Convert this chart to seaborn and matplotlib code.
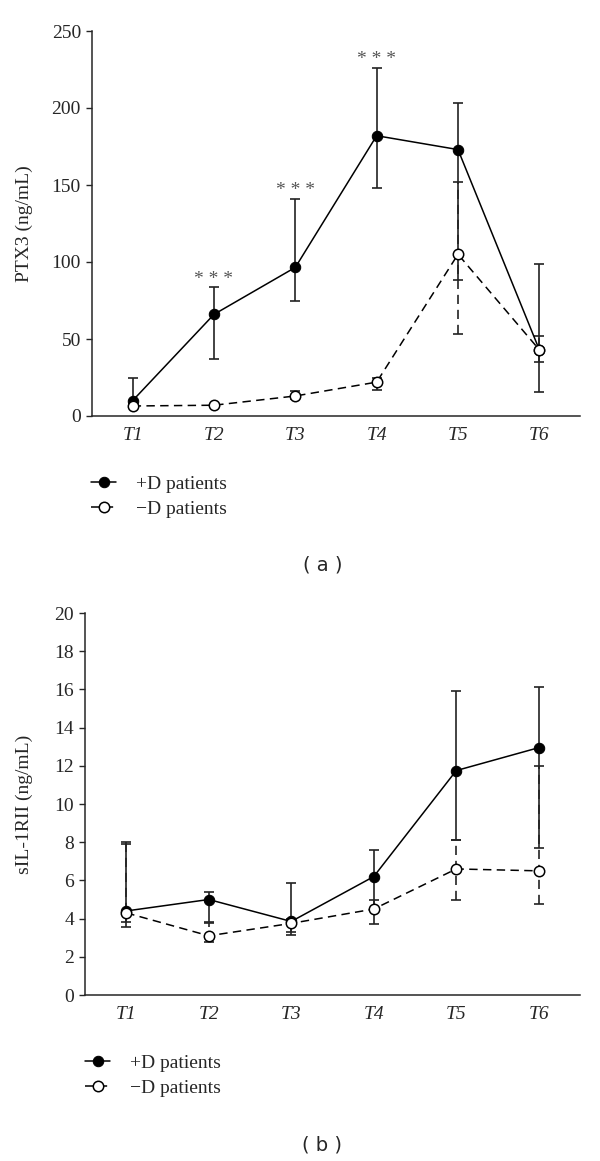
import numpy as np
import pandas as pd
import seaborn as sns
import matplotlib
matplotlib.use("Agg")
import matplotlib.pyplot as plt

# time points
times = ["T1", "T2", "T3", "T4", "T5", "T6"]

# (a) PTX3, ng/mL
ptx3_pos = [10, 66, 96.5, 182, 173, 43]
ptx3_pos_lo = [7, 37, 75, 148, 88, 15.5]
ptx3_pos_hi = [25, 83.5, 141, 226, 203.5, 99]
ptx3_neg = [6.5, 7, 13, 22, 105, 43]
ptx3_neg_lo = [5, 6, 11, 17, 53, 35]
ptx3_neg_hi = [7.5, 8, 16, 25, 152, 52]
ptx3_signif = [False, True, True, True, False, False]

# (b) sIL-1RII, ng/mL
sil_pos = [4.4, 5.0, 3.85, 6.2, 11.75, 12.95]
sil_pos_lo = [3.8, 3.8, 3.3, 4.5, 8.1, 7.7]
sil_pos_hi = [8.0, 5.4, 5.85, 7.6, 15.9, 16.15]
sil_neg = [4.3, 3.1, 3.75, 4.5, 6.6, 6.5]
sil_neg_lo = [3.55, 2.75, 3.15, 3.7, 4.95, 4.75]
sil_neg_hi = [7.9, 3.75, 4.0, 5.0, 8.1, 12.0]

labels = ["+D patients", "\u2212D patients"]

sns.set_style("ticks")
plt.rcParams["font.family"] = ["Liberation Serif", "DejaVu Serif"]
plt.rcParams["axes.linewidth"] = 1.1

DASH = (0, (5.5, 3.5))


def panel(ax, pos, pos_lo, pos_hi, neg, neg_lo, neg_hi, ymax, ystep, ylabel):
    df = pd.DataFrame({"time": times * 2,
                       "value": pos + neg,
                       "group": [labels[0]] * 6 + [labels[1]] * 6})
    x = np.arange(len(times))
    # error bars (asymmetric, drawn under the markers)
    ax.errorbar(x, pos, yerr=[np.subtract(pos, pos_lo), np.subtract(pos_hi, pos)],
                fmt="none", ecolor="#222222", elinewidth=1.2, capsize=3.5,
                capthick=1.2, zorder=2)
    eb2 = ax.errorbar(x, neg, yerr=[np.subtract(neg, neg_lo), np.subtract(neg_hi, neg)],
                      fmt="none", ecolor="#222222", elinewidth=1.2, capsize=3.5,
                      capthick=1.2, zorder=2)
    for c in eb2[2]:
        c.set_linestyle(DASH)

    sns.lineplot(data=df[df.group == labels[0]], x="time", y="value", ax=ax,
                 color="black", linestyle="-", linewidth=1.1, marker="o",
                 markersize=7.5, markerfacecolor="black", markeredgecolor="black",
                 zorder=4, label=labels[0], legend=False)
    sns.lineplot(data=df[df.group == labels[1]], x="time", y="value", ax=ax,
                 color="black", linestyle=DASH, linewidth=1.1, marker="o",
                 markersize=7.5, markerfacecolor="white", markeredgecolor="black",
                 markeredgewidth=1.1, zorder=5, label=labels[1], legend=False)

    ax.set_xlim(-0.5, 5.5)
    ax.set_ylim(0, ymax)
    ax.set_yticks(np.arange(0, ymax + ystep / 2, ystep))
    ax.set_xticks(x)
    ax.set_xticklabels(times, fontstyle="italic", fontsize=14)
    ax.tick_params(axis="x", length=0, pad=8)
    ax.tick_params(axis="y", length=4, width=1, labelsize=14, pad=4)
    ax.set_xlabel("")
    ax.set_ylabel(ylabel, fontsize=14)
    sns.despine(ax=ax)
    return ax


fig = plt.figure(figsize=(6, 11.61), dpi=100)

ax1 = fig.add_axes([92 / 600, 1 - 416 / 1161, 488 / 600, 385 / 1161])
panel(ax1, ptx3_pos, ptx3_pos_lo, ptx3_pos_hi, ptx3_neg, ptx3_neg_lo, ptx3_neg_hi,
      250, 50, "PTX3 (ng/mL)")
ax1.yaxis.set_label_coords(-0.121, 0.5)
for i, s in enumerate(ptx3_signif):
    if s:
        ax1.annotate("* * *", (i, ptx3_pos_hi[i]), xytext=(0, 6),
                     textcoords="offset points", ha="center", va="center",
                     color="#555555", fontsize=14)

ax2 = fig.add_axes([85 / 600, 1 - 995 / 1161, 495 / 600, 382 / 1161])
panel(ax2, sil_pos, sil_pos_lo, sil_pos_hi, sil_neg, sil_neg_lo, sil_neg_hi,
      20, 2, "sIL-1RII (ng/mL)")
ax2.yaxis.set_label_coords(-0.105, 0.5)

for ax, (lx, ly), (tx, ty), tag in [(ax1, (91, 475), (323, 565), "( a )"),
                                    (ax2, (85, 1054), (322, 1145), "( b )")]:
    handles = ax.get_lines()[-2:]
    fig.legend(handles, labels, loc="upper left",
               bbox_to_anchor=(lx / 600, 1 - ly / 1161), frameon=False,
               fontsize=14, handlelength=1.3, handletextpad=1.0,
               labelspacing=0.4, borderpad=0, borderaxespad=0)
    fig.text(tx / 600, 1 - ty / 1161, tag, ha="center", va="center",
             family="DejaVu Sans", fontsize=14)

fig.savefig("out.png", dpi=100)
